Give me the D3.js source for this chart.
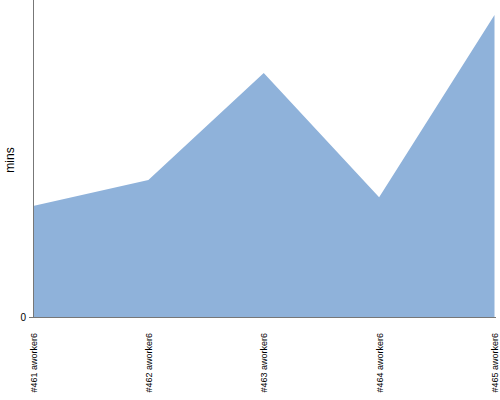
<!DOCTYPE html>
<html>
<head>
<meta charset="utf-8">
<script src="https://cdn.jsdelivr.net/npm/d3@7"></script>
<style>
  body { margin: 0; background: #fff; }
  text { font-family: "Liberation Sans", Arial, sans-serif; fill: #000; }
</style>
</head>
<body>
<svg width="500" height="400"></svg>
<script>
// builds and their duration in minutes
var builds = ["#461 aworker6", "#462 aworker6", "#463 aworker6", "#464 aworker6", "#465 aworker6"];
var mins = [36.8, 45.4, 80.8, 39.7, 100];
var yTicks = [0];

var svg = d3.select("svg"),
    margin = {top: 0, right: 5, bottom: 83, left: 33},
    width = +svg.attr("width") - margin.left - margin.right,
    height = +svg.attr("height") - margin.top - margin.bottom,
    g = svg.append("g").attr("transform", "translate(" + margin.left + "," + margin.top + ")");

var x = d3.scalePoint().domain(builds).range([0, width - 0.5]);
var y = d3.scaleLinear().domain([0, d3.max(mins) * 1.05]).range([height, 0]);

var data = builds.map(function(b, i) { return {build: b, value: mins[i]}; });

var area = d3.area()
    .x(function(d) { return x(d.build); })
    .y0(height)
    .y1(function(d) { return y(d.value); });

g.append("path")
    .datum(data)
    .attr("fill", "#8fb2da")
    .attr("d", area);

// y axis
var yAxis = g.append("g")
    .call(d3.axisLeft(y).tickValues(yTicks).tickSize(4).tickPadding(3));
yAxis.select(".domain").attr("stroke", "#777").attr("d", "M0.5,0V" + height);
yAxis.selectAll(".tick line").attr("stroke", "#777");
yAxis.selectAll("text").style("font-size", "10px");

// x axis
var xAxis = g.append("g")
    .attr("transform", "translate(0," + height + ")")
    .call(d3.axisBottom(x).tickSize(0));
xAxis.select(".domain").attr("stroke", "#777").attr("d", "M0," + 0.5 + "H" + (width + 1));
xAxis.selectAll("text")
    .style("font-size", "9px")
    .attr("text-anchor", "end")
    .attr("dy", "0.35em")
    .attr("transform", "translate(0,16) rotate(-90)")
    .attr("x", 0)
    .attr("y", 0);

svg.append("text")
    .attr("transform", "translate(14," + 160 + ") rotate(-90)")
    .attr("text-anchor", "middle")
    .style("font-size", "12px")
    .text("mins");
</script>
</body>
</html>
